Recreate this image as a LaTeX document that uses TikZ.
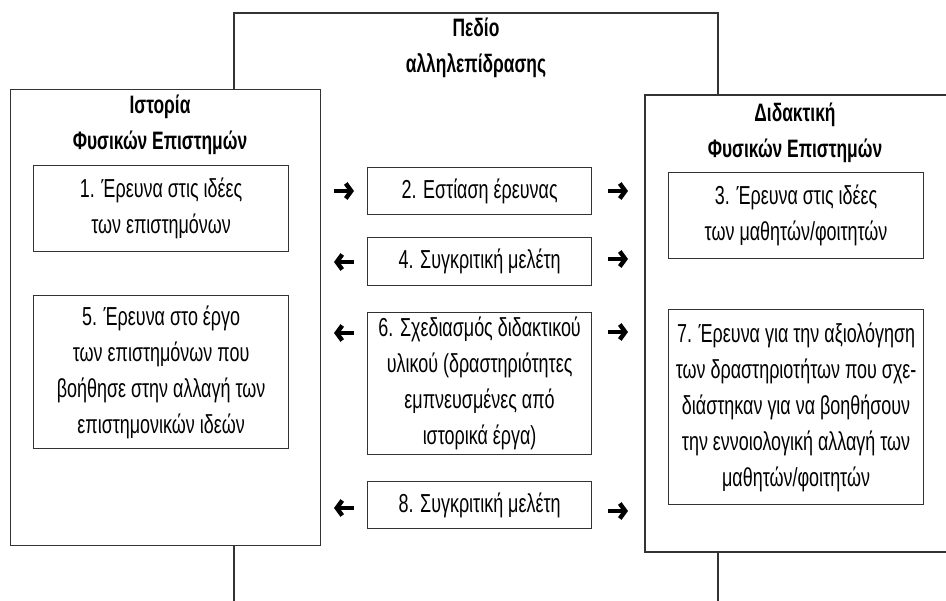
\documentclass[tikz,border=0pt]{standalone}
\usepackage{fontspec}
\setmainfont{Liberation Sans}[FakeStretch=0.69]
\usetikzlibrary{arrows.meta}
\definecolor{ln}{HTML}{333333}
\tikzset{
  box/.style={draw=ln, line width=1.2pt, fill=white, align=center, inner sep=0pt, anchor=north west,
    font=\fontsize{26}{36}\selectfont},
  ttl/.style={align=center, inner sep=0pt, font=\fontsize{25.2}{36}\selectfont\bfseries},
  frame/.style={draw=ln, line width=1.2pt},
  arr/.style={line width=4.4pt, -{Straight Barb[length=5.5pt,width=15pt]}, black},
}
\begin{document}
\begin{tikzpicture}[x=1pt,y=-1pt]
\useasboundingbox (0,0) rectangle (946,601);
% central frame
\draw[frame] (234,601) |- (718,13) -- (718,601);
\node[ttl] (pedio) at (476,48) {Πεδίο\\αλληλεπίδρασης};
% left big box
\node[box, minimum width=310pt, minimum height=456pt] (hist) at (10,89) {};
\node[ttl] (histt) at (160,125) {Ιστορία\\Φυσικών Επιστημών};
% right big box (open on the right)
\fill[white] (645,95) rectangle (946,552);
\draw[frame] (947,95) -- (645,95) -- (645,552) -- (947,552);
\coordinate (did) at (645,95);
\node[ttl] (didt) at (795,133) {Διδακτική\\Φυσικών Επιστημών};
% inner boxes
\node[box, minimum width=255pt, minimum height=86pt] (b1) at (33,165) {1. Έρευνα στις ιδέες\\των επιστημόνων};
\node[box, minimum width=255pt, minimum height=153pt] (b5) at (33,295) {5. Έρευνα στο έργο\\των επιστημόνων που\\βοήθησε στην αλλαγή των\\επιστημονικών ιδεών};
\node[box, minimum width=224pt, minimum height=47pt] (b2) at (367,167) {2. Εστίαση έρευνας};
\node[box, minimum width=224pt, minimum height=48pt] (b4) at (367,237) {4. Συγκριτική μελέτη};
\node[box, minimum width=224pt, minimum height=142pt] (b6) at (367,312) {6. Σχεδιασμός διδακτικού\\υλικού (δραστηριότητες\\εμπνευσμένες από\\ιστορικά έργα)};
\node[box, minimum width=224pt, minimum height=47pt] (b8) at (367,481) {8. Συγκριτική μελέτη};
\node[box, minimum width=255pt, minimum height=86pt] (b3) at (668,172) {3. Έρευνα στις ιδέες\\των μαθητών/φοιτητών};
\node[box, minimum width=255pt, minimum height=195pt] (b7) at (668,309) {7. Έρευνα για την αξιολόγηση\\των δραστηριοτήτων που σχε-\\διάστηκαν για να βοηθήσουν\\την εννοιολογική αλλαγή των\\μαθητών/φοιτητών};
% arrows
\coordinate (l2a) at (334,191); \coordinate (l2b) at (354,191);
\coordinate (r2a) at (608,191); \coordinate (r2b) at (628,191);
\coordinate (l4a) at (334,262); \coordinate (l4b) at (354,262);
\coordinate (r4a) at (608,259); \coordinate (r4b) at (628,259);
\coordinate (l6a) at (334,333); \coordinate (l6b) at (354,333);
\coordinate (r6a) at (608,332); \coordinate (r6b) at (628,332);
\coordinate (l8a) at (334,508); \coordinate (l8b) at (354,508);
\coordinate (r8a) at (608,511); \coordinate (r8b) at (628,511);
\draw[arr] (l2a) -- (l2b);
\draw[arr] (r2a) -- (r2b);
\draw[arr] (l4b) -- (l4a);
\draw[arr] (r4a) -- (r4b);
\draw[arr] (l6b) -- (l6a);
\draw[arr] (r6a) -- (r6b);
\draw[arr] (l8b) -- (l8a);
\draw[arr] (r8a) -- (r8b);
\end{tikzpicture}
\end{document}
